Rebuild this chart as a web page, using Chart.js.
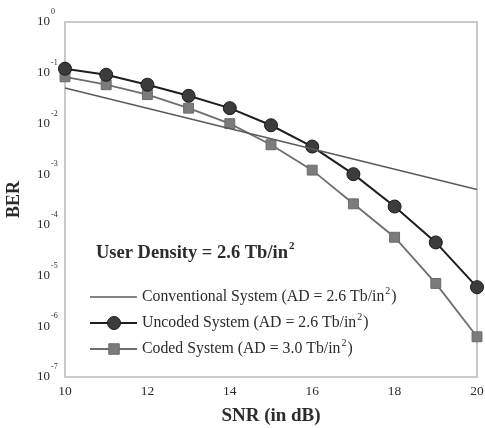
<!DOCTYPE html>
<html>
<head>
<meta charset="utf-8">
<script src="https://cdn.jsdelivr.net/npm/chart.js@4"></script>
<style>
    html, body { margin: 0; padding: 0; background: #fff; }
    #wrap { width: 485px; height: 428px; }
</style>
</head>
<body>
<div id="wrap"><canvas id="berChart" width="485" height="428"></canvas></div>
<script>
// SNR values (dB) where the simulated points sit
const snrPoints = [10, 11, 12, 13, 14, 15, 16, 17, 18, 19, 20];
const uncodedBer = [0.12, 0.091, 0.058, 0.035, 0.020, 0.0092, 0.0035, 0.001, 2.3e-4, 4.5e-5, 5.9e-6];
const codedBer = [0.083, 0.058, 0.037, 0.020, 0.0099, 0.0038, 0.0012, 2.6e-4, 5.7e-5, 7.0e-6, 6.2e-7];
// conventional system is a straight line between its end points
const convSnr = [10, 20];
const convBer = [0.050, 5.0e-4];

const xTickValues = [10, 12, 14, 16, 18, 20];
const yDecades = [0, -1, -2, -3, -4, -5, -6, -7];

const legendLabels = [
    ['Conventional System (AD = 2.6 Tb/in', '2', ')'],
    ['Uncoded System (AD = 2.6 Tb/in', '2', ')'],
    ['Coded System (AD = 3.0 Tb/in', '2', ')']
];
const densityLabel = ['User Density = 2.6 Tb/in', '2', ''];

const SERIF = '"Liberation Serif", "Times New Roman", serif';
const TEXT_COLOR = '#2b2b2b';

function toXY(xs, ys) {
    return xs.map((x, i) => ({ x: x, y: ys[i] }));
}

// text with one superscript part: [base, sup, tail]
function drawSupText(ctx, parts, x, y, size, bold) {
    const w = bold ? 'bold ' : '';
    ctx.textBaseline = 'middle';
    ctx.textAlign = 'left';
    ctx.font = `${w}${size}px ${SERIF}`;
    ctx.fillText(parts[0], x, y);
    x += ctx.measureText(parts[0]).width + 1;
    const supSize = Math.round(size * 0.62);
    ctx.font = `${w}${supSize}px ${SERIF}`;
    ctx.fillText(parts[1], x, y - size * 0.38);
    x += ctx.measureText(parts[1]).width + 1;
    ctx.font = `${w}${size}px ${SERIF}`;
    ctx.fillText(parts[2], x, y);
}

const overlayPlugin = {
    id: 'overlay',
    beforeDraw(chart) {
        const ctx = chart.ctx;
        ctx.save();
        ctx.fillStyle = '#ffffff';
        ctx.fillRect(0, 0, chart.width, chart.height);
        ctx.restore();
    },
    beforeDatasetsDraw(chart) {
        const { ctx, chartArea: a } = chart;
        ctx.save();
        ctx.strokeStyle = '#c9c9c9';
        ctx.lineWidth = 2;
        ctx.strokeRect(a.left, a.top, a.right - a.left, a.bottom - a.top);
        ctx.restore();
    },
    afterDraw(chart) {
        const ctx = chart.ctx;
        const yScale = chart.scales.y;
        ctx.save();
        ctx.fillStyle = TEXT_COLOR;

        // y tick labels 10^n
        yDecades.forEach(e => {
            const py = yScale.getPixelForValue(Math.pow(10, e));
            ctx.font = `13px ${SERIF}`;
            ctx.textAlign = 'right';
            ctx.textBaseline = 'middle';
            ctx.fillText('10', 50, py);
            ctx.font = `8px ${SERIF}`;
            ctx.textAlign = 'left';
            ctx.fillText(e === 0 ? '0' : '-' + Math.abs(e), 51, py - 10);
        });

        // annotation
        drawSupText(ctx, densityLabel, 96, 253, 18.5, true);

        // legend
        const ds = chart.data.datasets;
        const rowY = [297, 323, 349];
        ds.forEach((d, i) => {
            const y = rowY[i];
            ctx.strokeStyle = d.borderColor;
            ctx.lineWidth = d.borderWidth;
            ctx.beginPath();
            ctx.moveTo(90, y);
            ctx.lineTo(137, y);
            ctx.stroke();
            if (d.pointRadius > 0) {
                ctx.fillStyle = d.pointBackgroundColor;
                ctx.strokeStyle = d.pointBorderColor;
                ctx.lineWidth = 1;
                const r = d.pointRadius;
                ctx.beginPath();
                if (d.pointStyle === 'rect') {
                    ctx.rect(114 - r * 0.75, y - r * 0.75, r * 1.5, r * 1.5);
                } else {
                    ctx.arc(114, y, r, 0, Math.PI * 2);
                }
                ctx.fill();
                ctx.stroke();
            }
            ctx.fillStyle = TEXT_COLOR;
            drawSupText(ctx, legendLabels[i], 142, y, 15.8, false);
        });
        ctx.restore();
    }
};

const ctx = document.getElementById('berChart').getContext('2d');
new Chart(ctx, {
    type: 'line',
    data: {
        datasets: [
            {
                label: 'Conventional System',
                data: toXY(convSnr, convBer),
                borderColor: '#5a5a5a',
                borderWidth: 1.5,
                pointRadius: 0,
                clip: false
            },
            {
                label: 'Uncoded System',
                data: toXY(snrPoints, uncodedBer),
                borderColor: '#1e1e1e',
                borderWidth: 2,
                pointStyle: 'circle',
                pointRadius: 6.5,
                pointBackgroundColor: '#3c3c3c',
                pointBorderColor: '#1a1a1a',
                pointBorderWidth: 1,
                clip: false
            },
            {
                label: 'Coded System',
                data: toXY(snrPoints, codedBer),
                borderColor: '#6e6e6e',
                borderWidth: 1.8,
                pointStyle: 'rect',
                pointRadius: 7,
                pointBackgroundColor: '#7c7c7c',
                pointBorderColor: '#6a6a6a',
                pointBorderWidth: 1,
                clip: false
            }
        ]
    },
    options: {
        responsive: false,
        animation: false,
        layout: { padding: { left: 0, top: 22, right: 7, bottom: 0 } },
        plugins: {
            legend: { display: false },
            tooltip: { enabled: false }
        },
        scales: {
            x: {
                type: 'linear',
                min: 10,
                max: 20,
                afterBuildTicks: scale => { scale.ticks = xTickValues.map(v => ({ value: v })); },
                afterFit: scale => {
                    scale.height = 51;
                    scale.paddingLeft = 0;
                    scale.paddingRight = 0;
                },
                grid: { display: false, drawTicks: false },
                border: { display: false },
                ticks: {
                    padding: 6,
                    color: TEXT_COLOR,
                    font: { family: SERIF, size: 13.5 }
                },
                title: {
                    display: true,
                    text: 'SNR (in dB)',
                    color: TEXT_COLOR,
                    font: { family: SERIF, size: 19, weight: 'bold' },
                    padding: { top: 0, bottom: 1 }
                }
            },
            y: {
                type: 'logarithmic',
                min: 1e-7,
                max: 1,
                afterFit: scale => {
                    scale.width = 65;
                    scale.paddingTop = 0;
                    scale.paddingBottom = 0;
                },
                grid: { display: false, drawTicks: false },
                border: { display: false },
                ticks: { display: false },
                title: {
                    display: true,
                    text: 'BER',
                    color: TEXT_COLOR,
                    font: { family: SERIF, size: 18, weight: 'bold' },
                    padding: { top: 4, bottom: 0 }
                }
            }
        }
    },
    plugins: [overlayPlugin]
});
</script>
</body>
</html>
